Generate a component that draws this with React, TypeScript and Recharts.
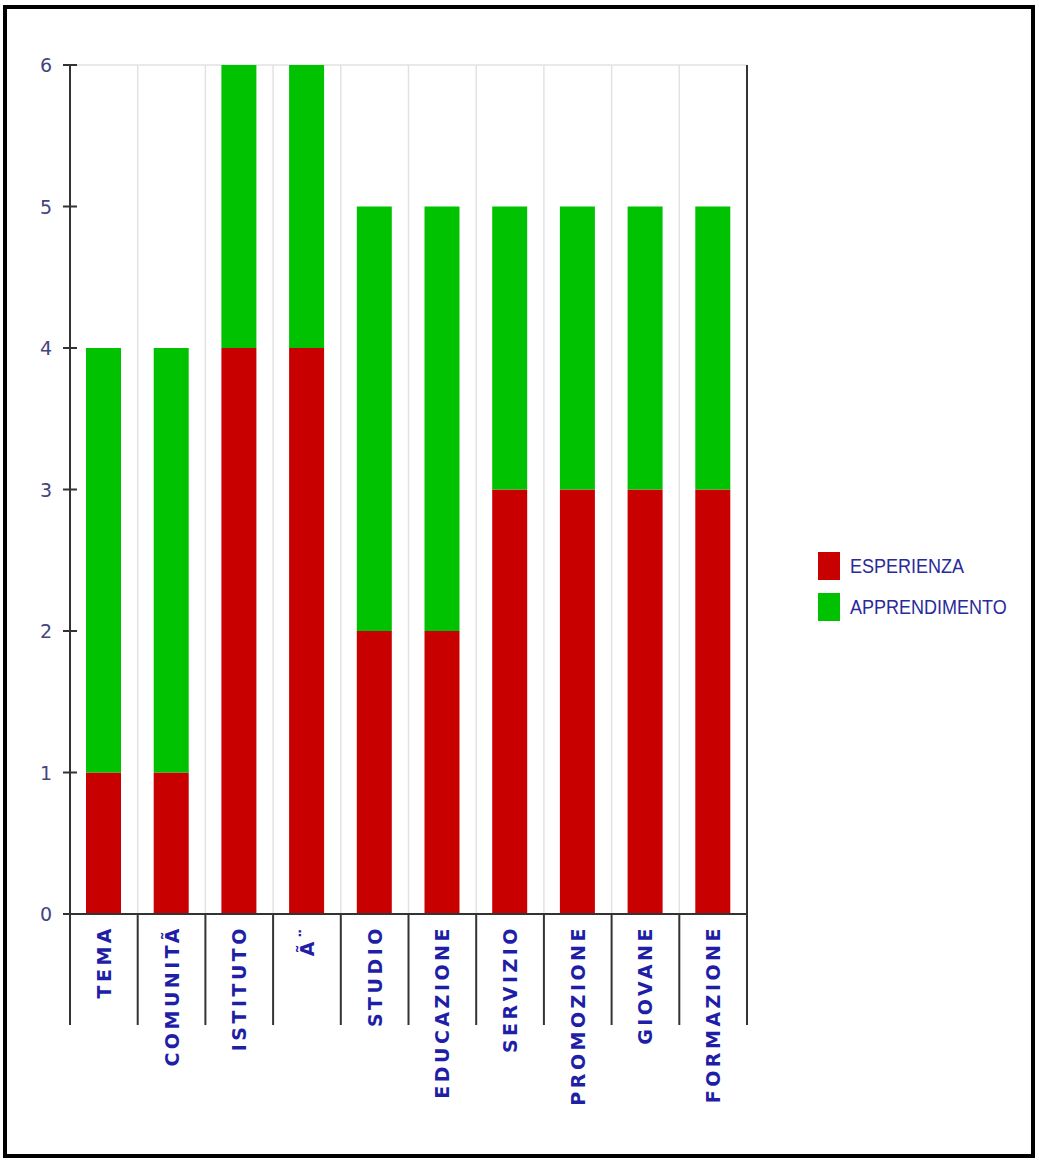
import { BarChart, Bar, XAxis, YAxis, CartesianGrid } from "recharts";

const categories = [
  "TEMA",
  "COMUNITÃ",
  "ISTITUTO",
  "Ã¨",
  "STUDIO",
  "EDUCAZIONE",
  "SERVIZIO",
  "PROMOZIONE",
  "GIOVANE",
  "FORMAZIONE",
];
const esperienza = [1, 1, 4, 4, 2, 2, 3, 3, 3, 3];
const apprendimento = [3, 3, 2, 2, 3, 3, 2, 2, 2, 2];
const yTicks = [0, 1, 2, 3, 4, 5, 6];

const series = [
  { key: "ESPERIENZA", color: "#c80000" },
  { key: "APPRENDIMENTO", color: "#00c200" },
];

const data = categories.map((name, i) => ({
  name,
  ESPERIENZA: esperienza[i],
  APPRENDIMENTO: apprendimento[i],
}));

const W = 1039;
const H = 1162;
const MARGIN = { top: 65, right: 242, left: 20, bottom: 48 };
const Y_AXIS_W = 50;
const PLOT_LEFT = MARGIN.left + Y_AXIS_W;
const PLOT_W = W - MARGIN.left - MARGIN.right - Y_AXIS_W * 2;
const BAND = PLOT_W / categories.length;

const AXIS = "#333";
const NUM_COLOR = "#44447e";
const LABEL_COLOR = "#1e1ea6";

const boundaries = categories.map((_, i) => PLOT_LEFT + i * BAND).concat(PLOT_LEFT + PLOT_W);

const CategoryTick = (props: any) => {
  const { x, y, payload, index } = props;
  const half = BAND / 2;
  return (
    <g>
      <line x1={x - half} y1={y} x2={x - half} y2={y + 111} stroke={AXIS} strokeWidth={2} />
      {index === categories.length - 1 && (
        <line x1={x + half} y1={y} x2={x + half} y2={y + 111} stroke={AXIS} strokeWidth={2} />
      )}
      <text
        transform={`translate(${x},${y + 11}) rotate(-90)`}
        textAnchor="end"
        dominantBaseline="central"
        fontFamily="DejaVu Sans"
        fontWeight="bold"
        fontSize={19}
        letterSpacing={3.5}
        fill={LABEL_COLOR}
      >
        {payload.value}
      </text>
    </g>
  );
};

const makeValueTick = (side: "left" | "right") => (props: any) => {
  const { x, y, payload } = props;
  return (
    <g>
      <line x1={x - 7} y1={y} x2={x + 7} y2={y} stroke={AXIS} strokeWidth={2} />
      <text
        x={side === "left" ? x - 18 : x + 20}
        y={y}
        textAnchor={side === "left" ? "end" : "start"}
        dominantBaseline="central"
        fontFamily="DejaVu Sans"
        fontSize={19}
        fill={NUM_COLOR}
      >
        {payload.value}
      </text>
    </g>
  );
};

export default function App() {
  return (
    <div style={{ position: "absolute", left: 0, top: 0, width: W, height: H, background: "#fff" }}>
      <BarChart width={W} height={H} data={data} margin={MARGIN}>
        <CartesianGrid
          stroke="#e2e2e2"
          strokeWidth={1.5}
          verticalCoordinatesGenerator={() => boundaries}
        />
        <XAxis
          dataKey="name"
          interval={0}
          height={200}
          tickLine={false}
          tickSize={0}
          tickMargin={0}
          axisLine={{ stroke: AXIS, strokeWidth: 2 }}
          tick={<CategoryTick />}
        />
        <YAxis
          yAxisId="left"
          width={Y_AXIS_W}
          domain={[0, 6]}
          ticks={yTicks}
          interval={0}
          tickLine={false}
          tickSize={0}
          tickMargin={0}
          axisLine={{ stroke: AXIS, strokeWidth: 2 }}
          tick={makeValueTick("left")}
        />
        <YAxis
          yAxisId="right"
          orientation="right"
          width={Y_AXIS_W}
          domain={[0, 6]}
          ticks={yTicks}
          interval={0}
          tickLine={false}
          tickSize={0}
          tickMargin={0}
          axisLine={{ stroke: AXIS, strokeWidth: 2 }}
          tick={makeValueTick("right")}
        />
        {series.map((s) => (
          <Bar
            key={s.key}
            yAxisId="left"
            dataKey={s.key}
            stackId="a"
            fill={s.color}
            barSize={35}
            isAnimationActive={false}
          />
        ))}
      </BarChart>

      {/* legend sits to the right of the plot, vertically centred */}
      <div
        style={{
          position: "absolute",
          left: 818,
          top: 552,
          display: "flex",
          flexDirection: "column",
          gap: 13,
        }}
      >
        {series.map((s) => (
          <div key={s.key} style={{ display: "flex", alignItems: "center", height: 28 }}>
            <span style={{ width: 22, height: 28, background: s.color, marginRight: 10 }} />
            <span
              style={{
                fontFamily: "'Liberation Sans', Arial, sans-serif",
                fontSize: 20,
                color: "#2a2a9a",
                display: "inline-block",
                transform: "scaleX(0.9)",
                transformOrigin: "left center",
                whiteSpace: "nowrap",
              }}
            >
              {s.key}
            </span>
          </div>
        ))}
      </div>

      <div
        style={{
          position: "absolute",
          left: 3,
          top: 5,
          width: 1032,
          height: 1153,
          border: "4px solid #000",
          boxSizing: "border-box",
          pointerEvents: "none",
        }}
      />
    </div>
  );
}
